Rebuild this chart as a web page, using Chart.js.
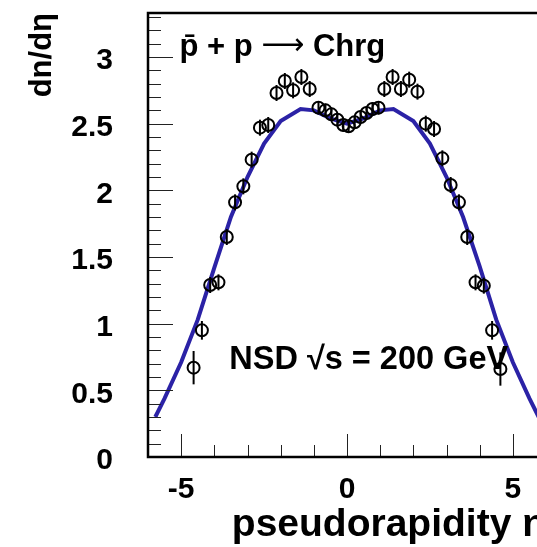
<!DOCTYPE html>
<html>
<head>
<meta charset="utf-8">
<script src="https://cdn.jsdelivr.net/npm/chart.js@4/dist/chart.umd.min.js"></script>
<style>
html,body{margin:0;padding:0;overflow:hidden;background:#fff;width:537px;height:547px;}
canvas{display:block;}
</style>
</head>
<body>
<canvas id="c" width="554" height="547"></canvas>
<script>
// pseudorapidity of the data points
const etaPts = [-4.625,-4.375,-4.125,-3.875,-3.625,-3.375,-3.125,-2.875,-2.625,-2.375,-2.125,-1.875,-1.625,-1.375,-1.125,
  -0.86,-0.65,-0.47,-0.29,-0.11,0.05,0.23,0.41,0.59,0.77,0.95,
  1.125,1.375,1.625,1.875,2.125,2.375,2.625,2.875,3.125,3.375,3.625,3.875,4.125,4.375,4.625];
// dn/deta of the data points
const dndeta = [0.67,0.95,1.29,1.31,1.65,1.91,2.03,2.23,2.47,2.49,2.73,2.82,2.75,2.85,2.76,
  2.62,2.60,2.57,2.53,2.49,2.48,2.51,2.55,2.58,2.61,2.62,
  2.76,2.85,2.76,2.83,2.74,2.50,2.46,2.24,2.04,1.91,1.65,1.31,1.285,0.95,0.66];
// vertical error of each point
const errs = [0.125,0.07,0.06,0.06,0.06,0.06,0.06,0.06,0.06,0.06,0.06,0.06,0.06,0.06,0.06,
  0.05,0.05,0.05,0.05,0.05,0.05,0.05,0.05,0.05,0.05,0.05,
  0.06,0.06,0.06,0.06,0.06,0.06,0.06,0.06,0.06,0.06,0.06,0.06,0.06,0.07,0.125];
// model curve
const curveEta = [-5.78,-5.5,-5,-4.5,-4,-3.5,-3,-2.5,-2,-1.4,-1.0,-0.5,0,0.5,1.0,1.4,2,2.5,3,3.5,4,4.5,5,5.5,5.78];
const curveVal = [0.30,0.44,0.71,1.03,1.42,1.80,2.10,2.35,2.52,2.61,2.60,2.54,2.50,2.54,2.60,2.61,2.52,2.35,2.10,1.80,1.43,1.03,0.71,0.44,0.30];
// tick labels
const xTicks = [-5,0,5];
const yTicks = [0,0.5,1,1.5,2,2.5,3];
const xTitle = 'pseudorapidity η';
const yTitle = 'dn/dη';
const label1 = ['p̄ + p ', '⟶', ' Chrg'];
const label2 = 'NSD √s = 200 GeV';

const FONT = '"Liberation Sans", Arial, Helvetica, sans-serif';

const deco = {
  id: 'deco',
  afterDatasetsDraw(chart) {
    const {ctx, chartArea: a, scales: {x, y}} = chart;
    ctx.save();
    // error bars
    ctx.strokeStyle = '#000';
    ctx.lineWidth = 2;
    etaPts.forEach((e, i) => {
      const px = x.getPixelForValue(e);
      ctx.beginPath();
      ctx.moveTo(px, y.getPixelForValue(dndeta[i] - errs[i]));
      ctx.lineTo(px, y.getPixelForValue(dndeta[i] + errs[i]));
      ctx.stroke();
    });
    // inward tick marks
    ctx.strokeStyle = '#222';
    ctx.lineWidth = 1;
    for (let k = 0; k <= 33; k++) {
      const v = k / 10;
      const py = Math.round(y.getPixelForValue(v)) + 0.5;
      const len = (k % 5 === 0) ? 25 : 13;
      ctx.beginPath(); ctx.moveTo(a.left, py); ctx.lineTo(a.left + len, py); ctx.stroke();
    }
    for (let k = -6; k <= 6; k++) {
      const px = Math.round(x.getPixelForValue(k)) + 0.5;
      const len = (k % 5 === 0) ? 23 : 12;
      ctx.beginPath(); ctx.moveTo(px, a.bottom); ctx.lineTo(px, a.bottom - len); ctx.stroke();
    }
    // frame
    ctx.strokeStyle = '#000';
    ctx.lineWidth = 2.5;
    ctx.strokeRect(a.left, a.top, a.right - a.left, a.bottom - a.top);
    // labels
    ctx.fillStyle = '#000';
    ctx.textBaseline = 'alphabetic';
    ctx.textAlign = 'left';
    let tx = x.getPixelForValue(-5.05);
    const ty = y.getPixelForValue(3.01);
    ctx.font = 'bold 31px ' + FONT;
    ctx.fillText(label1[0], tx, ty);
    tx += ctx.measureText(label1[0]).width;
    ctx.font = '30px "DejaVu Sans", sans-serif';
    ctx.fillText(label1[1], tx, ty - 2);
    tx += ctx.measureText(label1[1]).width;
    ctx.font = 'bold 31px ' + FONT;
    ctx.fillText(label1[2], tx, ty);
    ctx.font = 'bold 32.5px ' + FONT;
    ctx.fillText(label2, x.getPixelForValue(-3.55), y.getPixelForValue(0.66));
    ctx.restore();
  }
};

new Chart(document.getElementById('c'), {
  type: 'scatter',
  data: {
    datasets: [
      {
        type: 'line',
        data: curveEta.map((e, i) => ({x: e, y: curveVal[i]})),
        borderColor: '#2b22a6',
        borderWidth: 4,
        pointRadius: 0,
        tension: 0,
        fill: false,
        order: 2
      },
      {
        data: etaPts.map((e, i) => ({x: e, y: dndeta[i]})),
        pointStyle: 'circle',
        pointRadius: 6,
        borderWidth: 2,
        borderColor: '#000',
        backgroundColor: 'rgba(0,0,0,0)',
        showLine: false,
        order: 1
      }
    ]
  },
  options: {
    responsive: false,
    animation: false,
    devicePixelRatio: 1,
    layout: {padding: {top: 13, right: 3, left: 0, bottom: 0}},
    plugins: {legend: {display: false}, tooltip: {enabled: false}},
    scales: {
      x: {
        type: 'linear', min: -6, max: 6,
        grid: {display: false, drawTicks: false},
        border: {display: false},
        afterBuildTicks: s => { s.ticks = xTicks.map(v => ({value: v})); },
        afterFit: s => { s.height = 90; s.paddingLeft = 0; s.paddingRight = 0; },
        ticks: {
          color: '#000', padding: 15, maxRotation: 0,
          font: {family: FONT, weight: 'bold', size: 30},
          callback: v => String(v)
        },
        title: {
          display: true, text: xTitle, align: 'end', color: '#000',
          font: {family: FONT, weight: 'bold', size: 39, lineHeight: 1},
          padding: {top: 0, bottom: 2}
        }
      },
      y: {
        type: 'linear', min: 0, max: 3.33,
        grid: {display: false, drawTicks: false},
        border: {display: false},
        afterBuildTicks: s => { s.ticks = yTicks.map(v => ({value: v})); },
        afterFit: s => { s.width = 148; s.paddingTop = 0; s.paddingBottom = 0; },
        ticks: {
          color: '#000', padding: 35, labelOffset: 4,
          font: {family: FONT, weight: 'bold', size: 30},
          callback: v => String(v)
        },
        title: {
          display: true, text: yTitle, align: 'end', color: '#000',
          font: {family: FONT, weight: 'bold', size: 31, lineHeight: 1.2},
          padding: {top: 24, bottom: 0}
        }
      }
    }
  },
  plugins: [deco]
});
</script>
</body>
</html>
